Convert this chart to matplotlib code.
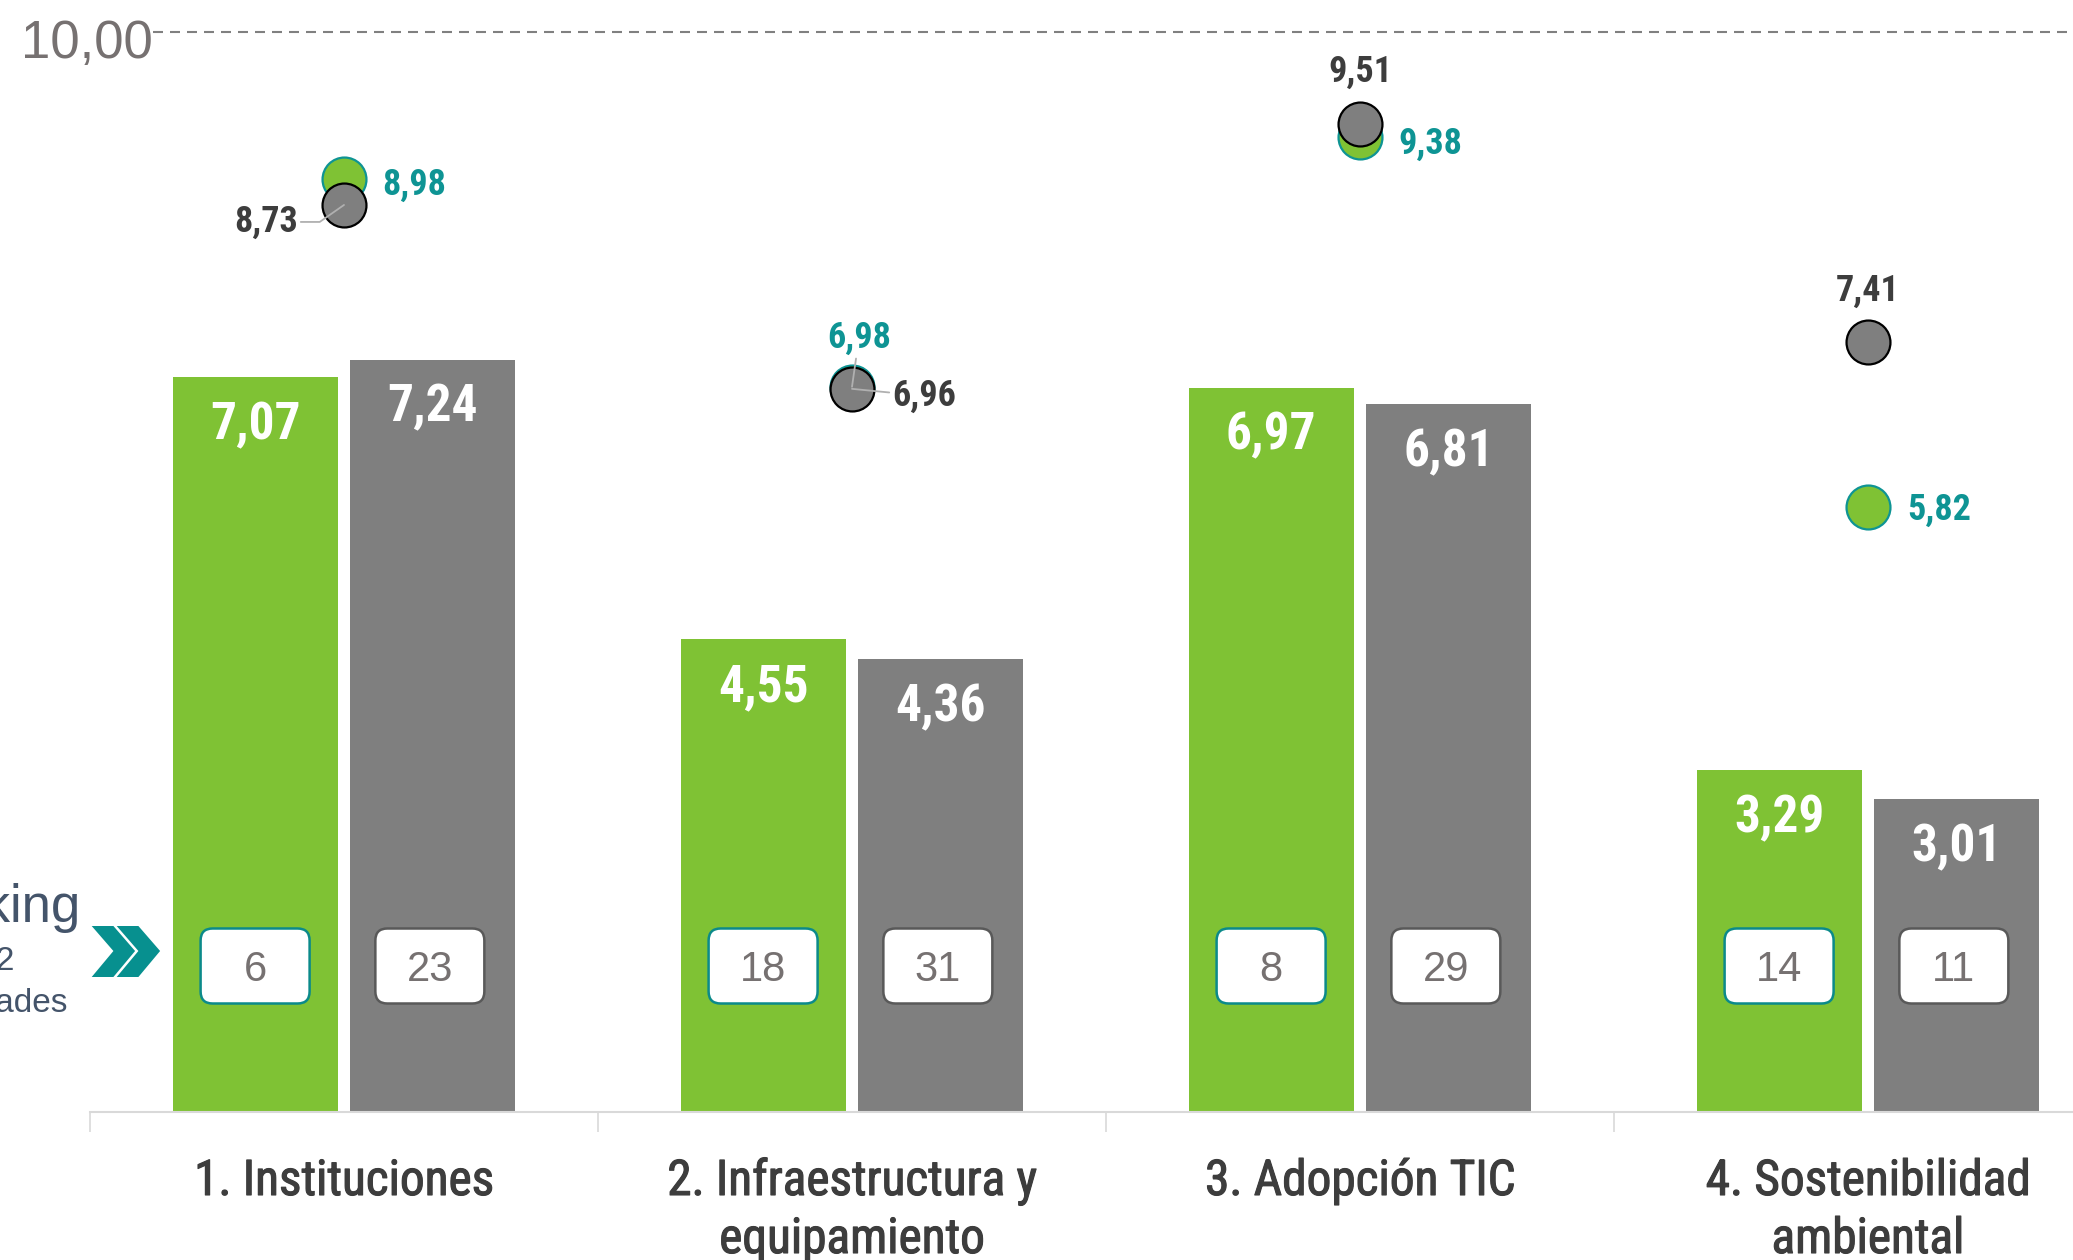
import matplotlib
matplotlib.use("Agg")
import matplotlib.pyplot as plt
import matplotlib.transforms as mtransforms
import matplotlib.patheffects as pe
from matplotlib import font_manager
from matplotlib.font_manager import FontProperties
from matplotlib.patches import FancyBboxPatch, Polygon
from matplotlib.lines import Line2D
import numpy as np

# ---------------- data ----------------
categories = ["1. Instituciones", "2. Infraestructura y\nequipamiento",
              "3. Adopción TIC", "4. Sostenibilidad\nambiental"]
bar_green = [7.07, 4.55, 6.97, 3.29]
bar_gray = [7.24, 4.36, 6.81, 3.01]
dot_green = [8.98, 6.98, 9.38, 5.82]
dot_gray = [8.73, 6.96, 9.51, 7.41]
rank_green = [6, 18, 8, 14]
rank_gray = [23, 31, 29, 11]
ref_value = 10.00
side_lines = ["Ranking", "entre 32", "localidades"]

# label placement (pixels: dx, dy of baseline relative to dot, alignment, leader style)
green_lbl = [(38, -16, "left", None), (7, 39, "center", "arc3"),
             (38, -16, "left", None), (39, -13, "left", None)]
gray_lbl = [(-46, -27, "right", "angle,angleA=0,angleB=35,rad=0"),
            (40, -17, "left", "arc3"),
            (0, 42, "center", None), (0, 41, "center", None)]

# ---------------- fonts ----------------
ttf = font_manager.fontManager.ttflist


def wnum(f):
    w = f.weight
    if isinstance(w, str):
        w = {"normal": 400, "regular": 400, "bold": 700, "medium": 500,
             "light": 300, "semibold": 600}.get(w.lower(), 400)
    return w


def find_font(target):
    cands = []
    prefs = ["Roboto Condensed", "Liberation Sans Narrow", "Open Sans Condensed",
             "DejaVu Sans Condensed"]
    for rank, nm in enumerate(prefs):
        for f in ttf:
            if f.name == nm and f.style == "normal":
                cands.append((rank, abs(wnum(f) - target), f.fname))
    if cands:
        cands.sort(key=lambda c: (c[0], c[1]))
        return FontProperties(fname=cands[0][2])
    return FontProperties(family="Roboto", weight=target)


NARROW_R = find_font(400)
NARROW_B = find_font(700)
names = {f.name for f in ttf}
REG = "Liberation Sans" if "Liberation Sans" in names else "DejaVu Sans"


def fp(base, size):
    p = base.copy()
    p.set_size(size)
    return p


GREEN = "#7fc234"
GRAY = "#7f7f7f"
TEAL = "#0e9494"
DARK = "#3d3d3d"
RANKTXT = "#767171"

W, H, DPI = 2073, 1260, 100
fig = plt.figure(figsize=(W / DPI, H / DPI), dpi=DPI, facecolor="white")


def fx(px):
    return px / W


def fy(py):
    return 1 - py / H


AX_L, AX_B, AX_T = 90, 1112, 32
CELL = 508.0          # pixels per category
UNIT = 103.9          # pixels per value unit
ax = fig.add_axes([fx(AX_L), fy(AX_B), 1 - fx(AX_L), (AX_B - AX_T) / H])
ax.set_xlim(-0.5, -0.5 + (W - AX_L) / CELL)
ax.set_ylim(0, (AX_B - AX_T) / UNIT)
ax.set_facecolor("none")

x = np.arange(len(categories))
off, bw = 0.175, 0.325
ax.bar(x - off, bar_green, width=bw, color=GREEN, zorder=2)
ax.bar(x + off, bar_gray, width=bw, color=GRAY, zorder=2)


def fmt(v):
    return f"{v:.2f}".replace(".", ",")


for xs, vals in ((x - off, bar_green), (x + off, bar_gray)):
    for xi, v in zip(xs, vals):
        ax.annotate(fmt(v), xy=(xi, v), xytext=(0, -62), textcoords="offset pixels",
                    ha="center", va="baseline", color="white",
                    fontproperties=fp(NARROW_B, 37), zorder=5)

# spines / ticks
for s in ["top", "right", "left"]:
    ax.spines[s].set_visible(False)
ax.spines["bottom"].set_color("#d9d9d9")
ax.spines["bottom"].set_linewidth(1.5)
ax.set_yticks([])
ax.set_xticks([])
ax.set_xticks(np.arange(len(categories)) - 0.5, minor=True)
ax.tick_params(axis="x", which="minor", length=14.4, width=1.2, color="#d9d9d9",
               direction="out")
ax.tick_params(axis="x", which="major", length=0)

# category labels
trans_xa = mtransforms.blended_transform_factory(ax.transData, ax.transAxes)
for xi, name in zip(x, categories):
    for k, line in enumerate(name.split("\n")):
        ax.annotate(line, xy=(xi, 0), xycoords=trans_xa,
                    xytext=(0, -83 - 58 * k), textcoords="offset pixels",
                    ha="center", va="baseline", color=DARK,
                    fontproperties=fp(NARROW_R, 35.5), annotation_clip=False,
                    path_effects=[pe.withStroke(linewidth=0.8, foreground=DARK)])

# dots
ax.scatter(x, dot_green, s=1000, color=GREEN, edgecolor=TEAL, linewidth=1.6, zorder=6)
ax.scatter(x, dot_gray, s=1000, color=GRAY, edgecolor="black", linewidth=1.6, zorder=7)

for vals, specs, col in ((dot_green, green_lbl, TEAL), (dot_gray, gray_lbl, DARK)):
    for xi, v, (dx, dy, ha, lead) in zip(x, vals, specs):
        ap = None
        if lead:
            ap = dict(arrowstyle="-", color="#b0b0b0", lw=1.3, shrinkA=0, shrinkB=0,
                      connectionstyle=lead)
        ax.annotate(fmt(v), xy=(xi, v), xytext=(dx, dy), textcoords="offset pixels",
                    ha=ha, va="baseline", color=col,
                    fontproperties=fp(NARROW_B, 26), arrowprops=ap, zorder=8)

# rank boxes
BOX_Y = 966  # pixel row of box centres
box_yc = (AX_B - BOX_Y) / (AX_B - AX_T)
box_h = 75 / (AX_B - AX_T)
box_w = 109 / CELL
aspect = (box_h / 75) / (box_w / 109)
for xs, ranks, ec in ((x - off, rank_green, "#0b8a8a"), (x + off - 0.006, rank_gray, "#595959")):
    for xi, r in zip(xs, ranks):
        p = FancyBboxPatch((xi - box_w / 2, box_yc - box_h / 2), box_w, box_h,
                           boxstyle=f"round,pad=0,rounding_size={12 / CELL}",
                           mutation_aspect=aspect, transform=trans_xa,
                           facecolor="white", edgecolor=ec, linewidth=1.8, zorder=4)
        ax.add_patch(p)
        ax.annotate(str(r), xy=(xi, box_yc), xycoords=trans_xa, xytext=(0, -15),
                    textcoords="offset pixels", ha="center", va="baseline",
                    fontsize=30, color=RANKTXT, family=REG, zorder=5)

# reference line "10,00"
dash_lw = 1.5
fig.add_artist(Line2D([fx(153), 1.0], [fy(AX_T), fy(AX_T)], transform=fig.transFigure,
                      color="#808080", lw=dash_lw,
                      dashes=(10 * 0.72 / dash_lw, 7 * 0.72 / dash_lw)))
fig.text(fx(153), fy(58), fmt(ref_value), ha="right", va="baseline", fontsize=38,
         color=RANKTXT, family=REG)

# side text (cut at left edge, as in the reference)
side_pos = [(81, 922, 38), (14, 970, 24), (68, 1012, 24)]
for txt, (rx, by, fs) in zip(side_lines, side_pos):
    fig.text(fx(rx), fy(by), txt, ha="right", va="baseline", fontsize=fs,
             color="#44546a", family=REG)

# chevrons
th = 21.7
for x0 in (91.7, 116.7):
    pts = [(x0, 926), (x0 + th, 926), (x0 + th + 21.7, 951), (x0 + th, 977),
           (x0, 977), (x0 + 21.7, 951)]
    fig.add_artist(Polygon([(fx(a), fy(b)) for a, b in pts], closed=True,
                           transform=fig.transFigure, facecolor="#07908f",
                           edgecolor="none"))

fig.savefig("out.png", dpi=DPI, facecolor="white")
